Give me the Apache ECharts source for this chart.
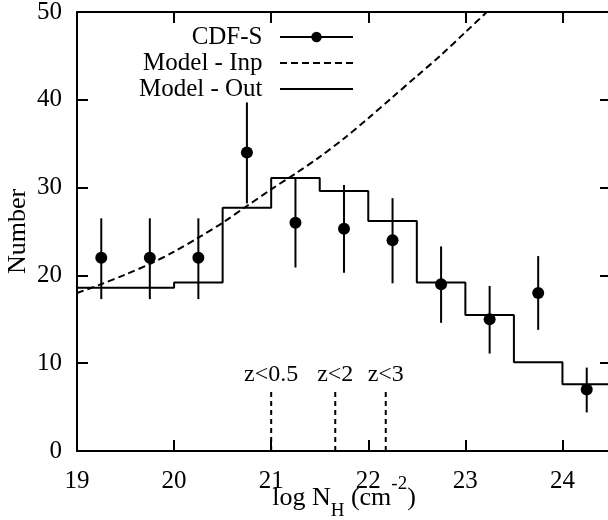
<!DOCTYPE html>
<html><head><meta charset="utf-8">
<script src="https://cdn.jsdelivr.net/npm/echarts@6/dist/echarts.min.js"></script>
<style>html,body{margin:0;padding:0;background:#fff}#c{width:608px;height:520px}</style>
</head><body><div id="c"></div>
<script>
// CDF-S data points (bin centres), values and error-bar ends
const pointX = [19.25, 19.75, 20.25, 20.75, 21.25, 21.75, 22.25, 22.75, 23.25, 23.75, 24.25];
const pointY = [22, 22, 22, 34, 26, 25.3, 24, 19, 15, 18, 7];
const errLow = [17.3, 17.3, 17.3, 28.2, 20.9, 20.3, 19.1, 14.6, 11.1, 13.8, 4.4];
const errHigh = [26.5, 26.5, 26.5, 39.7, 31.1, 30.3, 28.8, 23.3, 18.8, 22.2, 9.5];
// Model - Out histogram (bin edges and bin heights)
const binEdges = [19, 19.5, 20, 20.5, 21, 21.5, 22, 22.5, 23, 23.5, 24, 24.5];
const modelOut = [18.6, 18.6, 19.2, 27.7, 31.1, 29.6, 26.2, 19.2, 15.5, 10.1, 7.6];
// Model - Inp curve
const modelInpX = [19, 19.25, 19.5, 19.75, 20, 20.25, 20.5, 20.75, 21, 21.25, 21.5, 21.75, 22, 22.25, 22.5, 22.75, 23, 23.25, 23.5];
const modelInpY = [18.0, 19.0, 20.1, 21.3, 22.7, 24.3, 26.0, 27.9, 29.8, 31.6, 33.5, 35.6, 37.9, 40.3, 42.7, 45.1, 47.7, 50.3, 53.0];
// redshift cut markers
const zCutX = [21.0, 21.66, 22.18];
const zCutTop = [7, 7, 7];
const zCutLabels = ['z<0.5', 'z<2', 'z<3'];
// axes
const xMin = 19, xMax = 24.5, xStep = 1;
const yMin = 0, yMax = 50, yStep = 10;

const FONT = 'Liberation Serif';
const BLACK = '#000';

const histData = binEdges.map((e, i) => [e, modelOut[Math.min(i, modelOut.length - 1)]]);
const inpData = modelInpX.map((x, i) => [x, modelInpY[i]]);
const pointData = pointX.map((x, i) => [x, pointY[i]]);
const errData = pointX.map((x, i) => [x, errLow[i], errHigh[i]]);
const zData = zCutX.map((x, i) => [x, zCutTop[i], i]);

const axisLineStyle = { color: BLACK, width: 2 };
function xAx(pos, showLabel) {
  return {
    type: 'value', min: xMin, max: xMax, interval: xStep, position: pos,
    axisLine: { show: true, onZero: false, lineStyle: axisLineStyle },
    axisTick: { show: true, inside: true, length: 11, lineStyle: { color: BLACK, width: 2 } },
    axisLabel: {
      show: showLabel, margin: 18, fontFamily: FONT, fontSize: 25, color: BLACK,
      showMaxLabel: false,
      formatter: v => (Math.abs(v - Math.round(v)) < 1e-9 ? String(Math.round(v)) : '')
    },
    splitLine: { show: false }
  };
}
function yAx(pos, showLabel) {
  return {
    type: 'value', min: yMin, max: yMax, interval: yStep, position: pos,
    axisLine: { show: true, onZero: false, lineStyle: axisLineStyle },
    axisTick: { show: true, inside: true, length: 11, lineStyle: { color: BLACK, width: 2 } },
    axisLabel: { show: showLabel, margin: 15, fontFamily: FONT, fontSize: 25, color: BLACK },
    splitLine: { show: false }
  };
}

const xBottom = xAx('bottom', true);
xBottom.name = '{a|log N}{b|H}{a| (cm}{c|-2}{a|)}';
xBottom.nameLocation = 'middle';
xBottom.nameGap = 24;
xBottom.nameMoveOverlap = false;
xBottom.nameTextStyle = {
  rich: {
    a: { fontFamily: FONT, fontSize: 26, color: BLACK, lineHeight: 46, verticalAlign: 'middle' },
    b: { fontFamily: FONT, fontSize: 19, color: BLACK, lineHeight: 19, verticalAlign: 'bottom' },
    c: { fontFamily: FONT, fontSize: 19, color: BLACK, lineHeight: 14, verticalAlign: 'top' }
  }
};
const yLeft = yAx('left', true);
yLeft.name = 'Number';
yLeft.nameLocation = 'middle';
yLeft.nameGap = 46;
yLeft.nameRotate = 90;
yLeft.nameMoveOverlap = false;
yLeft.nameTextStyle = { fontFamily: FONT, fontSize: 26, color: BLACK };

const chart = echarts.init(document.getElementById('c'), null, { renderer: 'canvas' });
chart.setOption({
  animation: false,
  backgroundColor: '#fff',
  grid: { left: 77, top: 12, width: 534, height: 439, containLabel: false, outerBoundsMode: 'none' },
  xAxis: [xBottom, xAx('top', false)],
  yAxis: [yLeft, yAx('right', false)],
  legend: {
    orient: 'vertical', left: 75, top: 24, align: 'right', padding: 0, itemGap: 0,
    itemWidth: 73, itemHeight: 13,
    formatter: n => n + '  ',
    textStyle: { fontFamily: FONT, fontSize: 25, color: BLACK, width: 200, align: 'right', lineHeight: 26 },
    data: [
      { name: 'CDF-S', lineStyle: { width: 2, color: BLACK, opacity: 1, type: 'solid' } },
      { name: 'Model - Inp', itemStyle: { opacity: 0 } },
      { name: 'Model - Out', itemStyle: { opacity: 0 } }
    ]
  },
  series: [
    {
      name: 'Model - Out', type: 'line', step: 'end', data: histData,
      symbol: 'circle', showSymbol: false, clip: true,
      lineStyle: { color: BLACK, width: 2 }, itemStyle: { color: BLACK }, z: 2
    },
    {
      name: 'Model - Inp', type: 'line', smooth: 0.3, data: inpData,
      symbol: 'circle', showSymbol: false, clip: true,
      lineStyle: { color: BLACK, width: 2, type: [7, 4] }, itemStyle: { color: BLACK }, z: 2
    },
    {
      name: 'zcuts', type: 'custom', data: zData, z: 3, clip: false,
      encode: { x: 0, y: 1 },
      renderItem: (params, api) => {
        const x = api.value(0), top = api.value(1), idx = api.value(2);
        const p0 = api.coord([x, 0]);
        const p1 = api.coord([x, top]);
        return {
          type: 'group',
          children: [
            { type: 'line', shape: { x1: p0[0], y1: p0[1], x2: p1[0], y2: p1[1] },
              style: { stroke: BLACK, lineWidth: 2, lineDash: [5, 4] } },
            { type: 'text', style: { text: zCutLabels[idx], x: p1[0], y: p1[1] - 3,
              align: 'center', verticalAlign: 'bottom', fill: BLACK,
              font: '24px "Liberation Serif"' } }
          ]
        };
      }
    },
    {
      name: 'errbars', type: 'custom', data: errData, z: 4,
      encode: { x: 0, y: [1, 2] },
      renderItem: (params, api) => {
        const lo = api.coord([api.value(0), api.value(1)]);
        const hi = api.coord([api.value(0), api.value(2)]);
        return { type: 'line', shape: { x1: lo[0], y1: lo[1], x2: hi[0], y2: hi[1] },
          style: { stroke: BLACK, lineWidth: 2 } };
      }
    },
    {
      name: 'CDF-S', type: 'line', data: pointData,
      symbol: 'circle', symbolSize: 12, showSymbol: true,
      lineStyle: { width: 0, opacity: 0, color: BLACK },
      itemStyle: { color: BLACK }, z: 5
    }
  ]
});
</script></body></html>
